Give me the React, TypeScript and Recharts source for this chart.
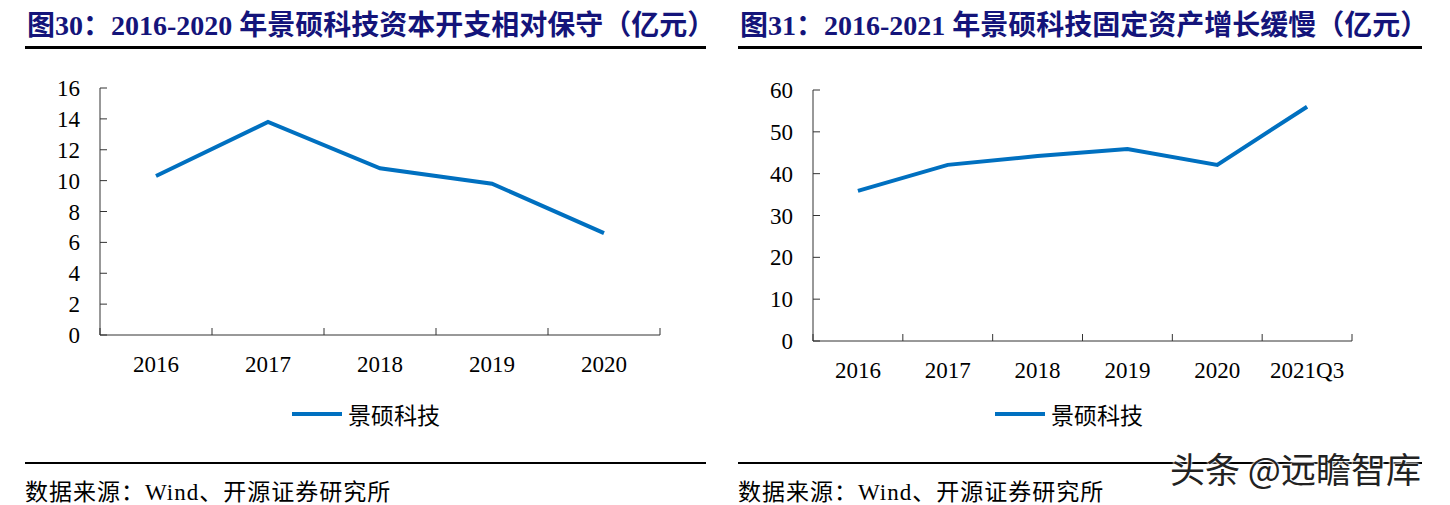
import React from "react";
import { LineChart, Line, XAxis, YAxis } from "recharts";

// 图30 / 图31 景硕科技 — two small line charts side by side
const capexYears = ["2016", "2017", "2018", "2019", "2020"];
const capexValues = [10.3, 13.8, 10.8, 9.8, 6.6];
const capexTicks = [0, 2, 4, 6, 8, 10, 12, 14, 16];

const assetPeriods = ["2016", "2017", "2018", "2019", "2020", "2021Q3"];
const assetValues = [35.9, 42.1, 44.2, 45.9, 42.1, 56.0];
const assetTicks = [0, 10, 20, 30, 40, 50, 60];

const seriesName = "景硕科技";
const title1 = "图30：2016-2020 年景硕科技资本开支相对保守（亿元）";
const title2 = "图31：2016-2021 年景硕科技固定资产增长缓慢（亿元）";
const sourceText = "数据来源：Wind、开源证券研究所";
const watermark = "头条 @远瞻智库";

const BLUE = "#0070C0";
const AXIS = "#333333";
const NAVY = "#14147a";
const SERIF = "'Liberation Serif', 'Times New Roman', 'Noto Sans CJK SC', serif";
const CJK = "'Liberation Serif', 'Noto Sans CJK SC', serif";

function makeXTick(band: number, count: number) {
  return (props: any) => {
    const { x, y, payload, index } = props;
    return (
      <g>
        <line x1={x - band / 2} x2={x - band / 2} y1={y} y2={y - 7} stroke={AXIS} />
        {index === count - 1 && (
          <line x1={x + band / 2} x2={x + band / 2} y1={y} y2={y - 7} stroke={AXIS} />
        )}
        <text x={x} y={y + 37} textAnchor="middle" fontSize={23} fontFamily={SERIF} fill="#000">
          {payload.value}
        </text>
      </g>
    );
  };
}

function YTick(props: any) {
  const { x, y, payload } = props;
  return (
    <g>
      <line x1={x} x2={x + 7} y1={y} y2={y} stroke={AXIS} />
      <text x={x - 20} y={y + 8} textAnchor="end" fontSize={23} fontFamily={SERIF} fill="#000">
        {payload.value}
      </text>
    </g>
  );
}

function Panel(props: {
  left: number; width: number; title: string; titleX: number; lineStart: number; lineEnd: number;
  cats: string[]; values: number[]; ticks: number[];
  margin: { top: number; right: number; bottom: number; left: number };
  legendX: number;
}) {
  const { left, width, title, titleX, cats, values, ticks, margin, legendX, lineStart, lineEnd } = props;
  const data = cats.map((c, i) => ({ name: c, value: values[i] }));
  const height = 400;
  const yAxisW = 60;
  const plotW = width - margin.left - margin.right - yAxisW;
  const band = plotW / cats.length;
  return (
    <>
      <div style={{ position: "absolute", left: titleX, top: 12, fontSize: 28, lineHeight: 1, fontWeight: 700, color: NAVY, fontFamily: CJK, whiteSpace: "nowrap" }}>
        {title}
      </div>
      <div style={{ position: "absolute", left: lineStart, width: lineEnd - lineStart, top: 46, height: 3, background: "#000" }} />
      <div style={{ position: "absolute", left, top: 0 }}>
        <LineChart width={width} height={height} data={data} margin={margin}>
          <XAxis
            dataKey="name"
            height={40}
            padding={{ left: band / 2, right: band / 2 }}
            axisLine={{ stroke: AXIS }}
            tickLine={false}
            tickSize={0}
            tickMargin={0}
            interval={0}
            tick={makeXTick(band, cats.length)}
          />
          <YAxis
            width={yAxisW}
            domain={[ticks[0], ticks[ticks.length - 1]]}
            ticks={ticks}
            interval={0}
            axisLine={{ stroke: AXIS }}
            tickLine={false}
            tickSize={0}
            tickMargin={0}
            tick={YTick}
          />
          <Line
            type="linear"
            dataKey="value"
            name={seriesName}
            stroke={BLUE}
            strokeWidth={4}
            dot={false}
            isAnimationActive={false}
          />
        </LineChart>
      </div>
      <div style={{ position: "absolute", left: legendX, top: 400, display: "flex", alignItems: "center", height: 28 }}>
        <div style={{ width: 50, height: 4, background: BLUE, marginRight: 6 }} />
        <span style={{ fontSize: 23, fontFamily: CJK, color: "#000" }}>{seriesName}</span>
      </div>
      <div style={{ position: "absolute", left: lineStart, width: lineEnd - lineStart, top: 462, height: 2, background: "#000" }} />
      <div style={{ position: "absolute", left: lineStart, top: 473, fontSize: 23, letterSpacing: 1, fontFamily: CJK, color: "#000", whiteSpace: "nowrap" }}>
        {sourceText}
      </div>
    </>
  );
}

export default function App() {
  return (
    <div style={{ position: "absolute", left: 0, top: 0, width: 1450, height: 505, background: "#fff", overflow: "hidden" }}>
      <Panel
        left={0}
        width={720}
        title={title1}
        titleX={27}
        lineStart={25}
        lineEnd={706}
        cats={capexYears}
        values={capexValues}
        ticks={capexTicks}
        margin={{ top: 88, right: 60, bottom: 25, left: 40 }}
        legendX={292}
      />
      <Panel
        left={720}
        width={730}
        title={title2}
        titleX={740}
        lineStart={738}
        lineEnd={1422}
        cats={assetPeriods}
        values={assetValues}
        ticks={assetTicks}
        margin={{ top: 90, right: 98, bottom: 19, left: 33 }}
        legendX={995}
      />
      <div style={{ position: "absolute", left: 1170, top: 450, fontSize: 35, lineHeight: 1, fontFamily: "'Noto Sans CJK SC', sans-serif", color: "#222", whiteSpace: "nowrap", textShadow: "0 0 2px #fff, 0 0 2px #fff, 0 0 3px #fff" }}>
        {watermark}
      </div>
    </div>
  );
}
